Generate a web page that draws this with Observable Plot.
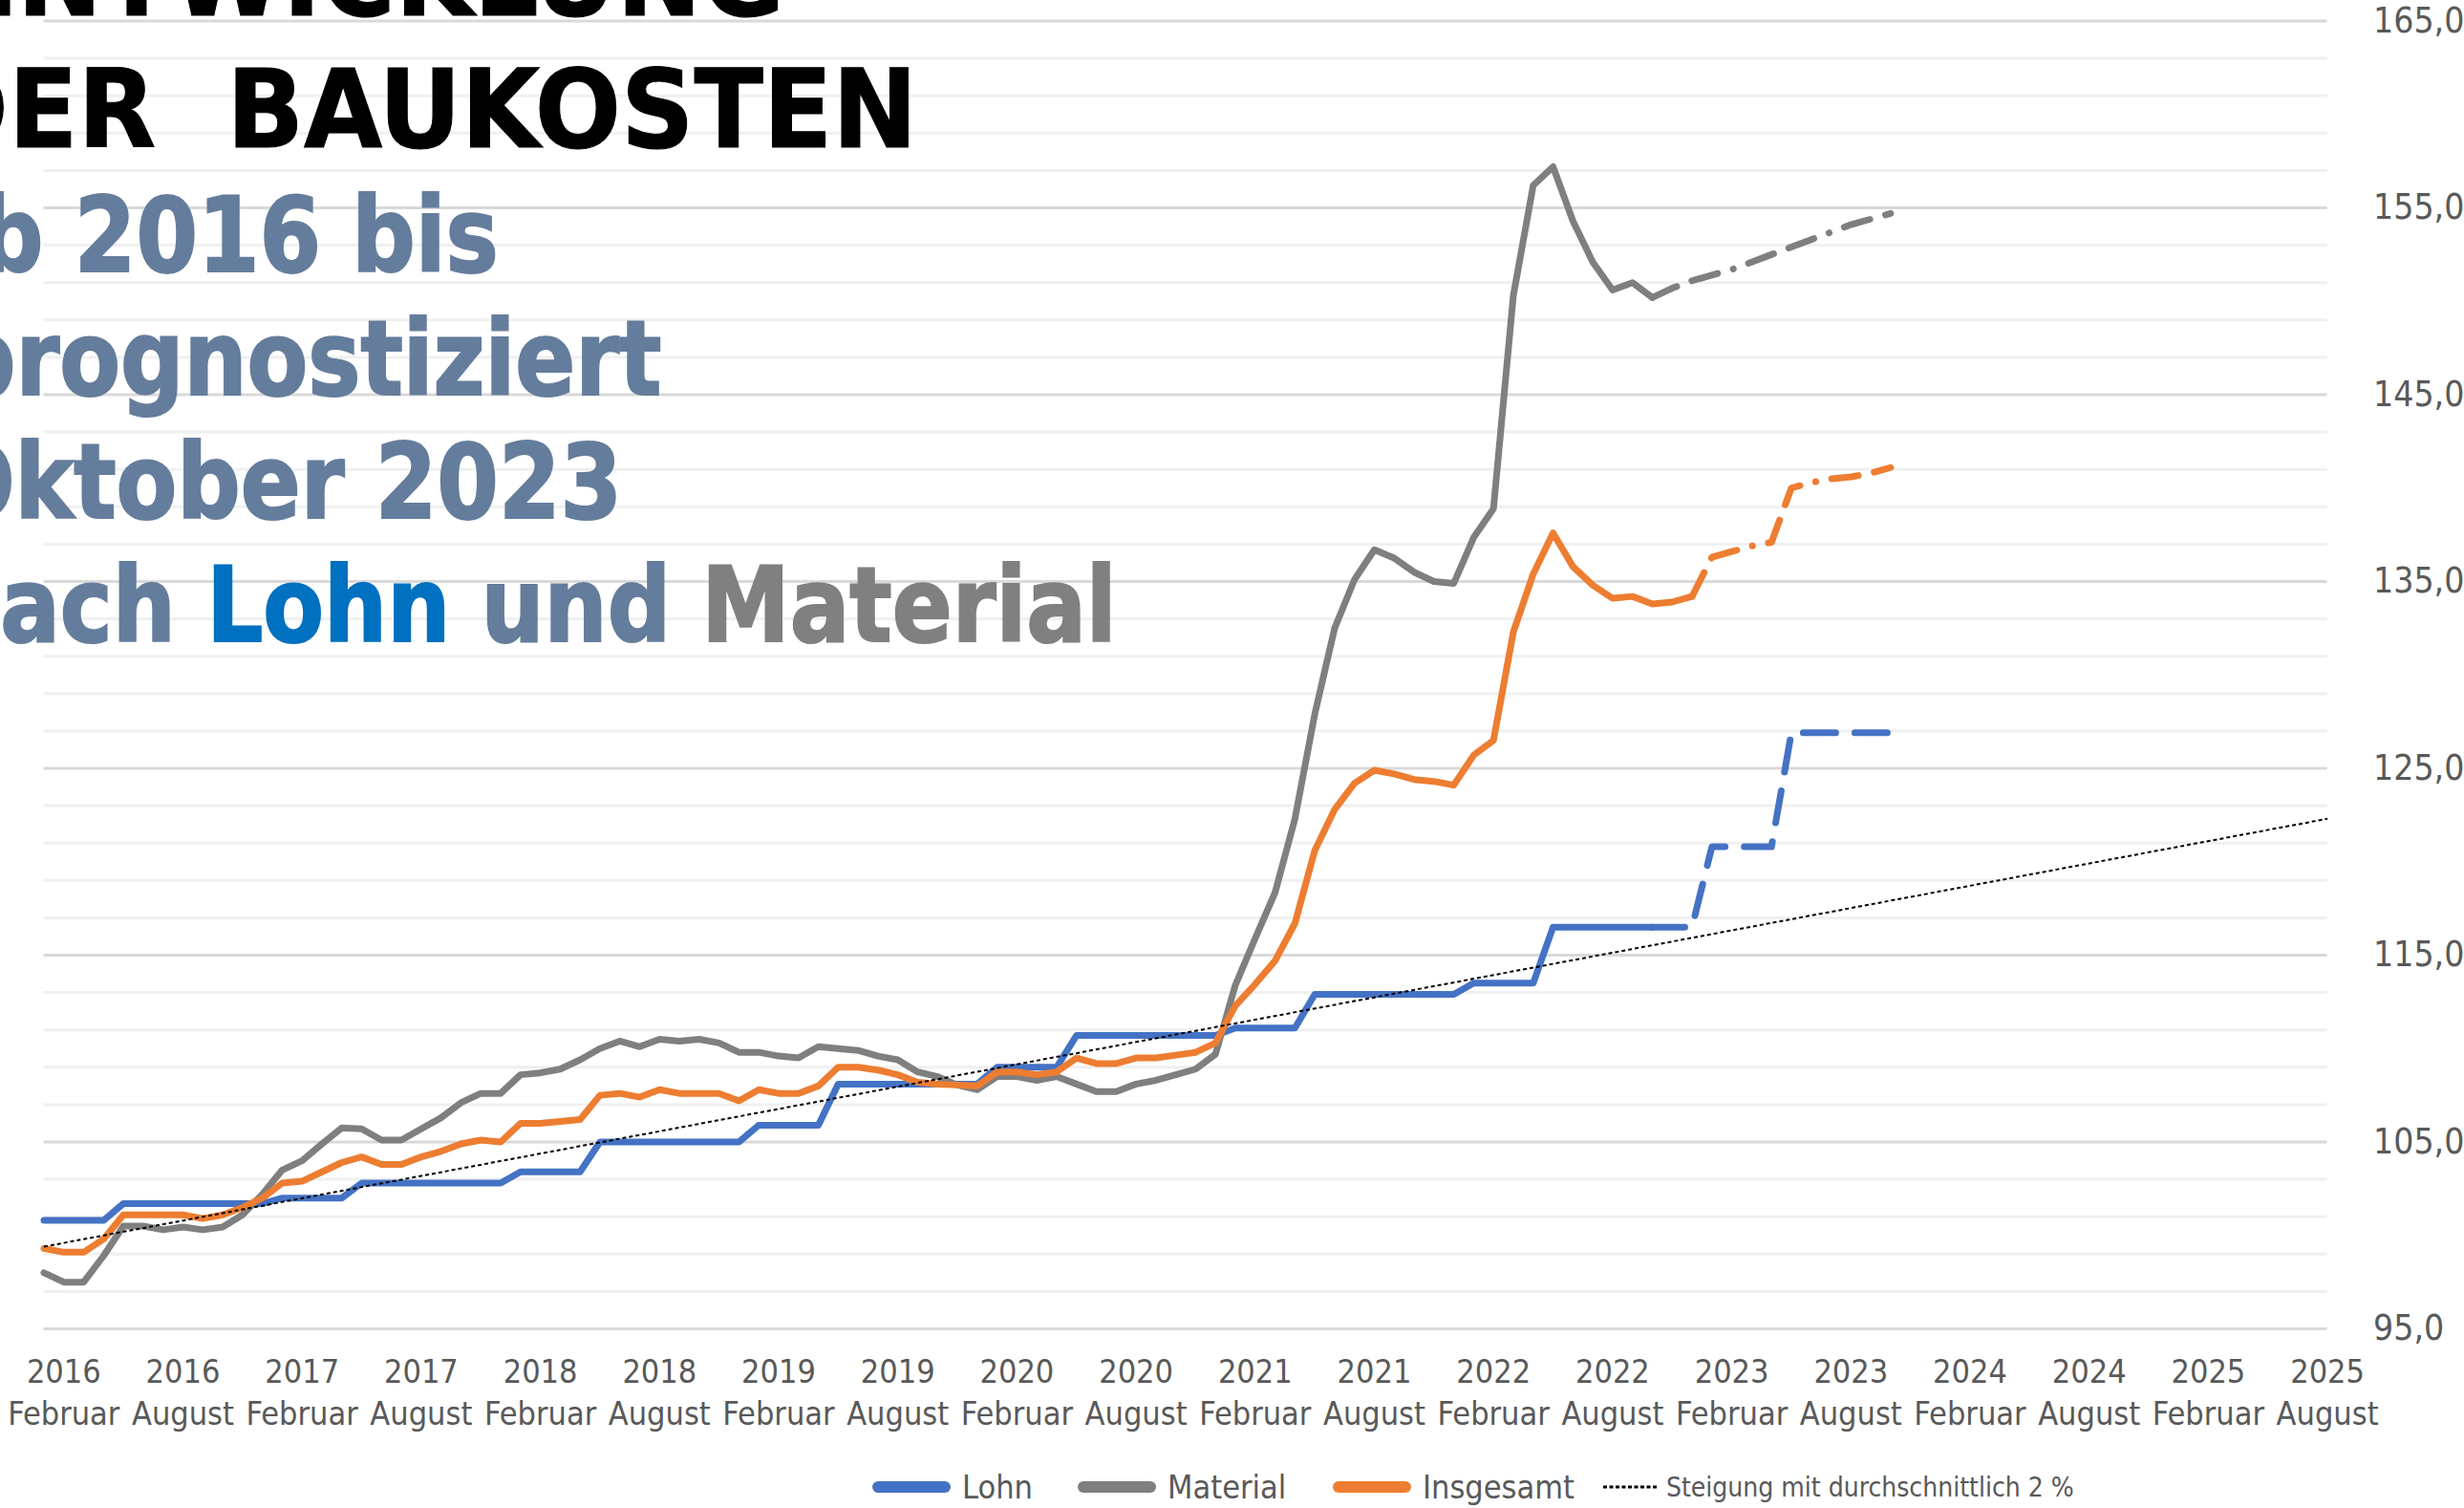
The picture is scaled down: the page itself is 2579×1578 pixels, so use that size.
<!DOCTYPE html>
<html>
<head>
<meta charset="utf-8">
<script src="https://cdn.jsdelivr.net/npm/d3@7"></script>
<script src="https://cdn.jsdelivr.net/npm/@observablehq/plot@0.6"></script>
<style>
  html, body { margin:0; padding:0; background:#fff; }
  body { width:2579px; height:1578px; overflow:hidden; position:relative; }
  #chart { position:absolute; left:0; top:0; }
  .tl { position:absolute; white-space:nowrap; font-family:"DejaVu Sans Condensed","DejaVu Sans",sans-serif; font-stretch:condensed; font-weight:700; line-height:1; text-align:right; transform-origin:100% 50%; }
  .blk { color:#000; transform:scaleX(1.035); -webkit-text-stroke:1px #000; }
  .sl { color:#657d9c; transform:scaleX(0.955); -webkit-text-stroke:2px currentColor; }
  .lg { position:absolute; top:1520px; height:72px; display:flex; align-items:center; font-family:"Liberation Sans Narrow","DejaVu Sans Condensed",sans-serif; color:#595959; white-space:nowrap; }
  .sw { display:inline-block; width:82px; height:12px; border-radius:6px; margin-right:12px; }
</style>
</head>
<body>
<div id="chart"></div>

<div class="tl blk" style="right:1758px; top:-80px; font-size:114px;">ENTWICKLUNG</div>
<div class="tl blk" style="right:1619px; top:58px; font-size:114px;">DER&nbsp;&nbsp;BAUKOSTEN</div>
<div class="tl sl" style="right:2057px; top:193px; font-size:108px;">ab 2016 bis</div>
<div class="tl sl" style="right:1887px; top:322px; font-size:108px;">prognostiziert</div>
<div class="tl sl" style="right:1928px; top:451px; font-size:108px;">Oktober 2023</div>
<div class="tl sl" style="right:1410px; top:580px; font-size:108px;">nach <span style="color:#0070c0">Lohn</span> und <span style="color:#808080">Material</span></div>

<div class="lg" style="left:913px; font-size:34px;"><span class="sw" style="background:#4472c4"></span>Lohn</div>
<div class="lg" style="left:1128px; font-size:34px;"><span class="sw" style="background:#7f7f7f"></span>Material</div>
<div class="lg" style="left:1395px; font-size:34px;"><span class="sw" style="background:#ed7d31"></span>Insgesamt</div>
<div class="lg" style="left:1678px; font-size:28px;"><svg width="58" height="6" style="margin-right:8px"><line x1="0" y1="3" x2="58" y2="3" stroke="#000" stroke-width="3" stroke-dasharray="4,2.5"/></svg>Steigung mit durchschnittlich 2 %</div>

<script>
// ---------- data (monthly index values, start January 2016) ----------
const monthNames = ["Januar","Februar","März","April","Mai","Juni","Juli","August","September","Oktober","November","Dezember"];
const startYear = 2016;

const lohnIstStart = [2016, "Januar"];
const lohnIst = [
  100.8,100.8,100.8,100.8,101.7,101.7,101.7,101.7,101.7,101.7,101.7,101.7,
  102.0,102.0,102.0,102.0,102.8,102.8,102.8,102.8,102.8,102.8,102.8,102.8,
  103.4,103.4,103.4,103.4,105.0,105.0,105.0,105.0,105.0,105.0,105.0,105.0,
  105.9,105.9,105.9,105.9,108.1,108.1,108.1,108.1,108.1,108.1,108.1,108.1,
  109.0,109.0,109.0,109.0,110.7,110.7,110.7,110.7,110.7,110.7,110.7,110.7,
  111.1,111.1,111.1,111.1,112.9,112.9,112.9,112.9,112.9,112.9,112.9,112.9,
  113.5,113.5,113.5,113.5,116.5,116.5,116.5,116.5,116.5,116.5
];
const lohnPrognoseStart = [2022, "Oktober"];
const lohnPrognose = [116.5,116.5,116.5,120.8,120.8,120.8,120.8,126.9,126.9,126.9,126.9,126.9,126.9];

const materialIstStart = [2016, "Januar"];
const materialIst = [
  98.0,97.5,97.5,98.9,100.5,100.5,100.3,100.45,100.3,100.45,101.1,102.2,
  103.5,104.0,104.9,105.75,105.7,105.1,105.1,105.7,106.3,107.1,107.6,107.6,
  108.6,108.7,108.9,109.4,110.0,110.4,110.1,110.5,110.4,110.5,110.3,109.8,
  109.8,109.6,109.5,110.1,110.0,109.9,109.6,109.4,108.75,108.5,108.05,107.8,
  108.5,108.5,108.3,108.5,108.1,107.7,107.7,108.1,108.3,108.6,108.9,109.7,
  113.4,115.9,118.35,122.3,127.9,132.5,135.1,136.7,136.25,135.5,135.0,134.9,
  137.35,138.9,150.3,156.2,157.2,154.3,152.1,150.6,151.0,150.2
];
const materialPrognoseStart = [2022, "Oktober"];
const materialPrognose = [150.2,150.7,151.1,151.4,151.7,152.1,152.5,152.9,153.3,153.7,154.1,154.4,154.7];

const insgesamtIstStart = [2016, "Januar"];
const insgesamtIst = [
  99.3,99.1,99.1,99.8,101.1,101.1,101.1,101.1,100.9,101.1,101.5,102.0,
  102.8,102.9,103.4,103.9,104.2,103.8,103.8,104.2,104.5,104.9,105.1,105.0,
  106.0,106.0,106.1,106.2,107.5,107.6,107.4,107.8,107.6,107.6,107.6,107.2,
  107.8,107.6,107.6,108.0,109.0,109.0,108.85,108.6,108.2,108.1,108.05,108.0,
  108.75,108.75,108.6,108.75,109.5,109.2,109.2,109.5,109.5,109.65,109.8,110.3,
  112.3,113.45,114.7,116.7,120.6,122.8,124.2,124.9,124.7,124.4,124.3,124.1,
  125.7,126.5,132.3,135.4,137.6,135.8,134.8,134.1,134.2,133.8,133.9,134.2
];
const insgesamtPrognoseStart = [2022, "Dezember"];
const insgesamtPrognose = [134.2,136.3,136.6,136.9,137.1,140.0,140.3,140.5,140.6,140.8,141.1];

// trend line "Steigung mit durchschnittlich 2 %": endpoints
const trendPunkte = [[2016, "Januar", 99.4], [2025, "August", 122.3]];

// axis labels
const tickYears  = ["2016","2016","2017","2017","2018","2018","2019","2019","2020","2020","2021","2021","2022","2022","2023","2023","2024","2024","2025","2025"];
const tickMonths = ["Februar","August","Februar","August","Februar","August","Februar","August","Februar","August","Februar","August","Februar","August","Februar","August","Februar","August","Februar","August"];
const yLabels = [95,105,115,125,135,145,155,165];
const yMinorGrid = [97,99,101,103,107,109,111,113,117,119,121,123,127,129,131,133,137,139,141,143,147,149,151,153,157,159,161,163];

// ---------- build tables ----------
const mIdx = (y, m) => (y - startYear) * 12 + monthNames.indexOf(m);
const series = (start, values) => values.map((v, i) => ({m: mIdx(start[0], start[1]) + i, v}));
const lohnA = series(lohnIstStart, lohnIst);
const lohnB = series(lohnPrognoseStart, lohnPrognose);
const matA = series(materialIstStart, materialIst);
const matB = series(materialPrognoseStart, materialPrognose);
const insA = series(insgesamtIstStart, insgesamtIst);
const insB = series(insgesamtPrognoseStart, insgesamtPrognose);
const trend = trendPunkte.map(([y, m, v]) => ({m: mIdx(y, m), v}));
const xTicks = tickYears.map((y, i) => ({m: mIdx(+y, tickMonths[i]), year: y, month: tickMonths[i]}));

const C = {lohn:"#4472c4", mat:"#7f7f7f", ins:"#ed7d31"};
const axisFont = '"Liberation Sans Narrow","DejaVu Sans Condensed",sans-serif';

const chart = Plot.plot({
  width: 2579,
  height: 1520,
  marginLeft: 45.5,
  marginRight: 143.4,
  marginTop: 21.5,
  marginBottom: 130,
  style: {background: "white", fontFamily: axisFont, overflow: "visible"},
  x: {type: "linear", domain: [trend[0].m, trend[1].m], axis: null},
  y: {domain: [95, 165], axis: null},
  marks: [
    Plot.ruleY(yMinorGrid, {stroke: "#f0f0f0", strokeWidth: 3}),
    Plot.ruleY(yLabels, {stroke: "#d9d9d9", strokeWidth: 3}),
    Plot.axisY(yLabels, {anchor: "right", label: null, tickSize: 0, tickPadding: 48, textAnchor: "start",
      fontSize: 37, fill: "#595959", tickFormat: d => d.toFixed(1).replace(".", ",")}),
    Plot.text(xTicks, {x: "m", text: "year", frameAnchor: "bottom", dy: 56, fontSize: 34, fill: "#595959"}),
    Plot.text(xTicks, {x: "m", text: "month", frameAnchor: "bottom", dy: 100, fontSize: 34, fill: "#595959"}),
    Plot.line(lohnA, {x: "m", y: "v", stroke: C.lohn, strokeWidth: 7, strokeLinejoin: "round"}),
    Plot.line(lohnB, {x: "m", y: "v", stroke: C.lohn, strokeWidth: 7, strokeLinecap: "round", strokeDasharray: "34,20"}),
    Plot.line(matA, {x: "m", y: "v", stroke: C.mat, strokeWidth: 7, strokeLinejoin: "round"}),
    Plot.line(matB, {x: "m", y: "v", stroke: C.mat, strokeWidth: 7, strokeLinecap: "round", strokeDasharray: "28,17,28,17,0.1,17"}),
    Plot.line(insA, {x: "m", y: "v", stroke: C.ins, strokeWidth: 7, strokeLinejoin: "round"}),
    Plot.line(insB, {x: "m", y: "v", stroke: C.ins, strokeWidth: 7, strokeLinecap: "round", strokeDasharray: "28,17,28,17,0.1,17"}),
    Plot.line(trend, {x: "m", y: "v", stroke: "#000", strokeWidth: 2, strokeDasharray: "4,3", strokeLinecap: "butt"})
  ]
});
document.getElementById("chart").appendChild(chart);
</script>
</body>
</html>
